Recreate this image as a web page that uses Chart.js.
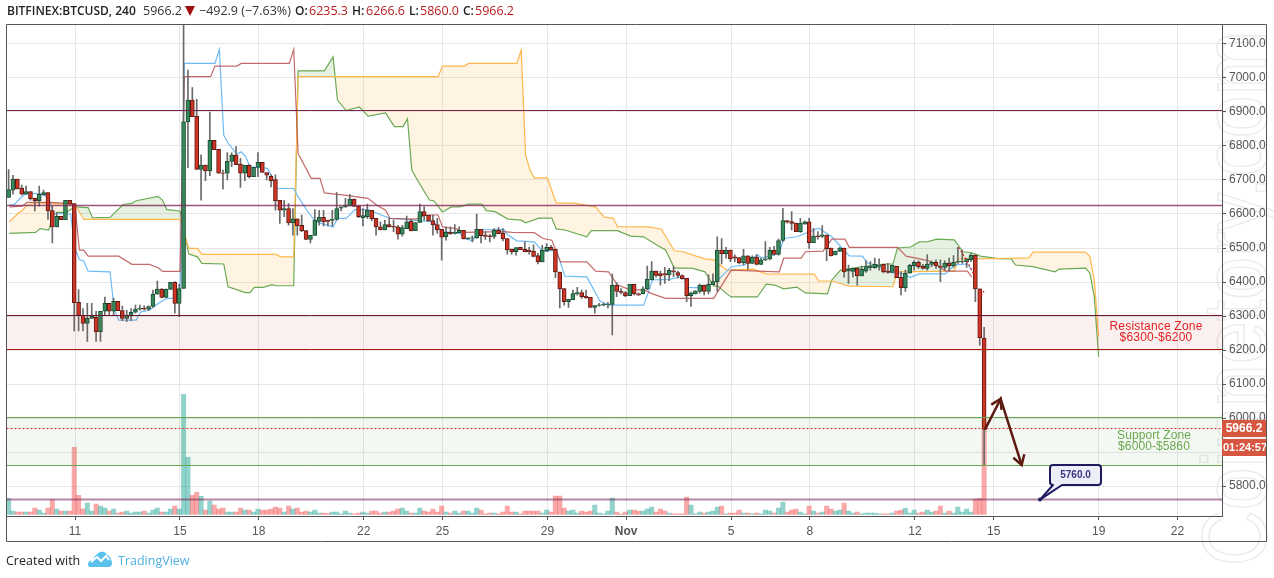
<!DOCTYPE html>
<html>
<head>
<meta charset="utf-8">
<title>BTCUSD</title>
<style>
    html, body { margin: 0; padding: 0; background: #fff; overflow: hidden; }
    #wrap { position: relative; width: 1274px; height: 578px; }
    canvas { position: absolute; left: 0; top: 0; }
    .t { position: absolute; top: 2px; font: 12.5px/17px "Open Sans", sans-serif; color: #333; white-space: nowrap; }
    .b { font-weight: 600; font-size: 12px; color: #222; }
    .r { color: #b71c1c; }
    #tri { position: absolute; left: 185px; top: 6px; width: 0; height: 0; border-left: 5px solid transparent; border-right: 5px solid transparent; border-top: 10px solid #a00f0f; }
    #made { position: absolute; left: 6px; top: 552px; font: 12.5px/17px "Open Sans", sans-serif; color: #222; }
    #tv { position: absolute; left: 118px; top: 552px; font: 12.5px/17px "Open Sans", sans-serif; color: #4fb0e5; }
    #logo { position: absolute; left: 88px; top: 551px; }
</style>
</head>
<body>
<div id="wrap">
    <canvas id="chart" width="1274" height="578"></canvas>
    <div class="t b" style="left:7px">BITFINEX:BTCUSD, 240</div>
    <div class="t" style="left:143px">5966.2</div>
    <div id="tri"></div>
    <div class="t" style="left:199px">−492.9 (−7.63%)</div>
    <div class="t b" style="left:295px">O:</div><div class="t r" style="left:309px">6235.3</div>
    <div class="t b" style="left:352px">H:</div><div class="t r" style="left:366px">6266.6</div>
    <div class="t b" style="left:409px">L:</div><div class="t r" style="left:420px">5860.0</div>
    <div class="t b" style="left:463px">C:</div><div class="t r" style="left:475px">5966.2</div>
    <div id="made">Created with</div>
    <svg id="logo" width="24" height="17" viewBox="0 0 24 17">
        <path d="M0 14 C0 10 3 9 5 9 C6 5 9 3 12 1 C15 0 18 1 19 4 C22 5 24 9 24 13 C24 15 22 16 20 16 L4 16 C2 16 0 16 0 14 Z" fill="#5cc0ec"/>
        <path d="M3 11 L9 6 L13 10 L18 5 L21 9" fill="none" stroke="#fff" stroke-width="2"/>
    </svg>
    <div id="tv">TradingView</div>
</div>
<script src="https://cdn.jsdelivr.net/npm/chart.js@4/dist/chart.umd.min.js"></script>
<script>
// Candles, 4h bars
const opens = [
    6649,6670,6703,6676,6658,6666,6646,6639,6656,6663,
    6610,6562,6593,6583,6640,6631,6340,6302,6278,6293,
    6296,6254,6314,6337,6314,6343,6316,6293,6300,6311,
    6320,6323,6320,6328,6364,6379,6355,6378,6399,6337,
    6381,6871,6935,6887,6731,6744,6727,6817,6790,6720,
    6720,6755,6773,6747,6720,6743,6710,6737,6752,6722,
    6711,6701,6640,6611,6616,6574,6586,6567,6551,6525,
    6537,6578,6590,6582,6581,6584,6617,6621,6624,6644,
    6623,6589,6592,6611,6587,6562,6553,6569,6564,6562,
    6541,6557,6579,6551,6575,6607,6596,6581,6569,6555,
    6533,6546,6543,6545,6552,6527,6529,6530,6555,6538,
    6536,6534,6552,6544,6528,6497,6489,6502,6496,6493,
    6491,6478,6459,6492,6502,6496,6429,6381,6342,6348,
    6365,6369,6358,6355,6325,6331,6332,6333,6334,6391,
    6373,6369,6360,6393,6365,6365,6380,6406,6432,6425,
    6425,6421,6433,6428,6419,6411,6360,6365,6372,6391,
    6372,6392,6401,6494,6483,6494,6474,6472,6457,6477,
    6455,6473,6452,6465,6468,6493,6481,6522,6581,6578,
    6573,6548,6570,6577,6516,6536,6534,6538,6500,6480,
    6490,6500,6432,6431,6440,6418,6432,6442,6442,6446,
    6452,6432,6428,6446,6414,6383,6426,6448,6458,6447,
    6440,6452,6458,6447,6443,6456,6447,6458,6459,6460,
    6466,6479,6380,6235.3
];
const highs = [
    6731,6714,6703,6685,6682,6666,6646,6682,6670,6663,
    6623,6604,6593,6640,6640,6631,6378,6322,6337,6337,
    6314,6314,6356,6337,6353,6343,6329,6317,6322,6332,
    6332,6330,6330,6376,6403,6381,6379,6399,6401,6394,
    7170,7023,6972,6937,6774,6744,6900,6817,6790,6729,
    6781,6780,6798,6764,6743,6745,6737,6781,6752,6722,
    6715,6715,6640,6640,6631,6616,6586,6597,6551,6537,
    6613,6611,6611,6582,6611,6663,6621,6646,6658,6644,
    6623,6616,6629,6611,6587,6577,6582,6587,6582,6567,
    6567,6594,6584,6575,6629,6621,6596,6597,6587,6555,
    6562,6562,6569,6562,6552,6530,6536,6600,6555,6548,
    6540,6557,6560,6557,6528,6497,6501,6502,6518,6502,
    6509,6484,6508,6513,6508,6496,6429,6381,6349,6376,
    6384,6376,6376,6355,6331,6337,6338,6340,6423,6398,
    6381,6372,6393,6393,6368,6386,6447,6460,6432,6432,
    6443,6440,6445,6432,6421,6411,6370,6374,6394,6391,
    6421,6424,6533,6528,6502,6494,6480,6472,6496,6477,
    6477,6481,6470,6519,6502,6505,6526,6617,6581,6607,
    6573,6587,6580,6587,6558,6548,6566,6538,6500,6491,
    6503,6500,6450,6440,6440,6447,6463,6460,6470,6468,
    6452,6455,6450,6446,6430,6435,6452,6463,6462,6452,
    6481,6462,6465,6465,6462,6470,6478,6502,6494,6468,
    6484,6480,6380,6266.6
];
const lows = [
    6649,6658,6674,6656,6658,6641,6609,6623,6656,6584,
    6515,6562,6583,6583,6629,6256,6256,6256,6225,6293,
    6225,6225,6302,6302,6302,6316,6286,6283,6286,6308,
    6317,6317,6316,6325,6364,6353,6355,6378,6308,6298,
    6381,6736,6886,6731,6641,6698,6713,6789,6720,6673,
    6700,6739,6745,6678,6698,6706,6710,6710,6722,6700,
    6680,6611,6572,6592,6567,6538,6538,6548,6525,6515,
    6537,6567,6565,6565,6565,6582,6609,6619,6624,6622,
    6589,6565,6587,6580,6538,6553,6553,6562,6548,6526,
    6535,6557,6550,6551,6575,6582,6580,6538,6543,6464,
    6523,6540,6541,6545,6527,6525,6518,6528,6515,6525,
    6518,6528,6542,6521,6482,6482,6479,6495,6489,6482,
    6474,6453,6459,6489,6494,6413,6324,6332,6325,6348,
    6361,6352,6352,6325,6308,6329,6330,6324,6244,6357,
    6365,6357,6360,6362,6361,6365,6377,6406,6414,6391,
    6396,6404,6416,6411,6408,6342,6328,6365,6367,6362,
    6365,6392,6372,6453,6470,6460,6460,6453,6450,6438,
    6455,6450,6451,6463,6465,6479,6479,6519,6573,6553,
    6548,6546,6570,6499,6516,6526,6531,6463,6477,6480,
    6490,6414,6396,6415,6391,6418,6428,6435,6440,6435,
    6427,6426,6428,6413,6362,6372,6426,6435,6440,6438,
    6435,6445,6440,6401,6435,6433,6443,6455,6455,6443,
    6460,6342,6214,5860
];
const closes = [
    6672,6703,6674,6658,6666,6645,6639,6658,6663,6609,
    6562,6593,6583,6640,6629,6339,6302,6278,6293,6300,
    6254,6314,6337,6314,6343,6316,6293,6301,6311,6320,
    6323,6320,6328,6364,6379,6355,6379,6399,6337,6381,
    6871,6935,6886,6731,6744,6727,6817,6789,6720,6719,
    6755,6773,6745,6720,6743,6710,6737,6752,6722,6714,
    6698,6639,6611,6616,6574,6586,6566,6550,6525,6537,
    6582,6590,6577,6578,6584,6616,6621,6626,6644,6622,
    6592,6595,6611,6586,6562,6553,6569,6562,6561,6541,
    6560,6577,6550,6575,6607,6594,6580,6568,6553,6532,
    6546,6542,6546,6552,6527,6530,6530,6555,6536,6534,
    6533,6552,6542,6527,6494,6489,6501,6495,6489,6489,
    6475,6459,6494,6502,6494,6430,6380,6342,6349,6366,
    6369,6357,6353,6325,6331,6333,6334,6335,6391,6372,
    6369,6359,6393,6365,6361,6380,6408,6432,6419,6418,
    6421,6434,6430,6419,6410,6360,6368,6374,6391,6372,
    6393,6401,6494,6483,6494,6468,6470,6457,6477,6455,
    6473,6452,6465,6468,6493,6481,6522,6581,6576,6572,
    6548,6573,6577,6516,6535,6533,6539,6498,6477,6491,
    6500,6430,6437,6440,6418,6437,6445,6447,6452,6450,
    6430,6428,6450,6413,6383,6426,6449,6458,6445,6440,
    6453,6458,6447,6443,6456,6447,6458,6461,6461,6468,
    6479,6380,6236,5966.2
];
// Volume in the height it has on screen, the scale is not printed
const volumes = [
    16,3.3,2.3,2.3,2.3,2.3,6.3,4.3,1.3,6.3,
    14.6,5.3,3.3,3.3,3.3,67,19,5.3,11.3,3.3,
    10.3,8.3,6.3,3.3,5.3,1.3,2.3,3.3,1.3,2.3,
    2.3,3.3,1.3,4.3,6.3,2.3,2.3,5.3,8.3,5.3,
    120,57,19,22,18,4.3,13.3,9.3,5.3,6.3,
    2.3,2.3,2.3,6.3,4.3,4.3,2.3,5.3,4.3,4.3,
    5.3,7.3,6.3,2.3,8.3,5.3,6.3,2.3,3.3,2.3,
    4.3,1.3,1.3,1,2.3,2.3,0.5,3.3,1.3,0.5,
    1.3,2.3,1.3,3.3,3.3,1.3,2.3,2.3,3.3,5.3,
    6.3,3.3,1.3,1.3,6.3,3.3,2.3,5.3,2.3,8.3,
    2.3,1.3,3.3,1.3,3.3,3.3,1.3,6.3,4.3,0.5,
    1.3,1.3,0.5,2.3,8.3,2.3,2.3,0.5,3.3,3.3,
    3.3,3.3,1.3,4.3,2.3,18.3,18.3,6.3,3.3,4.3,
    1.3,3.3,2.3,3.3,9.3,1.3,0.5,3.3,16.3,2.3,
    0.5,2.3,4.3,4.3,3.3,3.3,5.3,7.3,2.3,5.3,
    3.3,1.3,0.5,0.5,0.5,17.3,9.3,0.5,2.3,1.3,
    2.3,3.3,7.3,8.3,0.5,1.3,1.3,4.3,1.3,1.3,
    0.5,1.3,0.5,4.3,3.3,1.3,6.3,12.3,2.3,4.3,
    5.3,2.3,0.5,8.3,3.3,1.3,2.3,8.3,5.3,3.3,
    4.3,11.3,3.3,1.3,2.3,0.5,1.3,1.3,1.3,0.5,
    0.5,0.5,1.3,3.3,4.3,6.3,1.3,4.3,1.3,2.3,
    4.3,2.3,3.3,8.3,1.3,3.3,1.3,7.3,2.3,5.3,
    2.3,15.3,16,94
];

// Ichimoku lines, [bar index, price] at each bend
const tenkanLine = [
    [0,6627],[1,6627],[3,6653],[4,6660],[7,6660],[9,6649],[10,6602],[14,6600],[15,6499],[16,6466],[17,6462],[18,6432],
    [23,6430],[24,6317],[25,6288],[29,6288],[30,6312],[32,6317],[34,6337],[36,6352],[39,6352],[40,7043],[47,7043],[48,7084],
    [49,6832],[50,6808],[52,6776],[53,6783],[54,6769],[55,6739],[59,6734],[60,6710],[61,6675],[65,6675],[66,6651],[68,6611],
    [70,6577],[74,6562],[75,6587],[77,6587],[79,6613],[82,6613],[85,6597],[87,6587],[91,6584],[94,6580],[97,6577],[99,6548],
    [103,6543],[104,6528],[106,6521],[107,6553],[113,6555],[114,6538],[116,6521],[120,6518],[122,6489],[125,6494],[127,6417],
    [132,6415],[135,6344],[137,6332],[145,6332],[146,6367],[147,6406],[151,6408],[154,6418],[155,6384],[158,6383],[160,6391],
    [162,6406],[165,6445],[168,6450],[171,6480],[172,6470],[176,6484],[177,6528],[180,6533],[185,6558],[188,6533],[192,6477],
    [195,6476],[196,6457],[198,6450],[201,6428],[204,6425],[206,6414],[208,6424],[214,6424],[216,6450],[219,6453],[220,6435]
];
const kijunLine = [
    [0,6621],[3,6623],[4,6634],[9,6634],[14,6631],[15,6626],[16,6494],[17,6494],[18,6476],[25,6476],[28,6452],[32,6452],
    [34,6442],[35,6431],[39,6431],[40,7004],[46,7004],[47,7035],[52,7035],[53,7043],[64,7043],[65,7084],[66,6778],[69,6705],
    [71,6705],[72,6662],[77,6655],[82,6646],[84,6626],[86,6611],[87,6587],[93,6585],[95,6597],[98,6597],[99,6562],[102,6557],
    [104,6546],[113,6548],[115,6546],[120,6545],[122,6528],[124,6523],[126,6459],[132,6459],[134,6432],[137,6430],[139,6391],
    [142,6377],[145,6377],[147,6365],[150,6352],[161,6352],[165,6435],[176,6430],[177,6470],[181,6470],[182,6489],[186,6491],
    [188,6526],[191,6526],[192,6502],[203,6502],[205,6476],[210,6463],[212,6450],[214,6432],[219,6432],[220,6414]
];
const spanGreen = [
    [0,6543],[6,6546],[7,6557],[9,6553],[10,6597],[11,6605],[13,6605],[15,6621],[18,6619],[19,6589],[23,6590],[26,6628],
    [28,6631],[29,6639],[34,6652],[35,6641],[36,6613],[39,6609],[41,6482],[43,6474],[44,6455],[49,6453],[50,6386],[54,6369],
    [55,6369],[56,6384],[58,6384],[60,6392],[61,6389],[65,6389],[66,7021],[72,7021],[74,7062],[75,6935],[77,6904],[80,6915],
    [82,6888],[86,6897],[88,6857],[90,6857],[91,6880],[92,6729],[93,6706],[96,6641],[97,6639],[99,6606],[101,6621],[103,6621],
    [105,6629],[108,6629],[109,6610],[111,6607],[114,6585],[117,6582],[118,6574],[121,6588],[124,6588],[125,6556],[127,6553],
    [132,6533],[133,6551],[139,6551],[142,6535],[145,6533],[148,6509],[150,6494],[152,6441],[156,6441],[159,6430],[161,6388],
    [162,6388],[164,6365],[165,6356],[171,6356],[173,6394],[175,6391],[177,6380],[180,6385],[182,6368],[187,6365],[188,6406],
    [190,6435],[195,6445],[200,6453],[202,6453],[203,6500],[206,6503],[208,6518],[210,6519],[212,6526],[216,6524],[218,6489],
    [220,6486],[222,6476],[226,6469],[229,6468],[230,6450],[234,6445],[239,6430],[240,6438],[246,6441],[247,6426],[248,6357],[249,6180]
];
const spanOrange = [
    [0,6577],[2,6602],[3,6611],[4,6626],[6,6633],[9,6631],[15,6628],[17,6584],[39,6584],[41,6499],[43,6499],[44,6481],
    [61,6481],[62,6474],[65,6474],[66,7004],[98,7004],[99,7035],[104,7035],[105,7043],[116,7043],[117,7082],[118,6774],
    [119,6729],[120,6706],[123,6706],[125,6632],[129,6632],[134,6621],[136,6591],[138,6588],[139,6563],[146,6562],[149,6556],
    [152,6492],[154,6489],[157,6476],[159,6468],[161,6465],[164,6435],[170,6438],[173,6424],[184,6423],[185,6403],[188,6403],
    [192,6388],[202,6386],[203,6430],[216,6432],[217,6468],[226,6469],[233,6471],[234,6488],[246,6488],[247,6475],[248,6406],[249,6239]
];
// Short red scribble next to the last candles
const scribble = [[217,6502],[219,6460],[220.7,6416],[221,null],[222,6377],[222.3,6362],[222.9,6377]];

// Axes
const xTickBars = [15, 39, 57, 81, 99, 123, 141, 165, 183, 207, 225, 249, 267];
const xTickLabels = ['11', '15', '18', '22', '25', '29', 'Nov', '5', '8', '12', '15', '19', '22'];
const yTicks = [5800, 5900, 6000, 6100, 6200, 6300, 6400, 6500, 6600, 6700, 6800, 6900, 7000, 7100];

// Drawings on the chart
const levelLines = [6903, 6623, 5760];
const resistanceZone = [6300, 6200];
const supportZone = [6000, 5860];
const arrowBars = [223, 226.6, 231.4];
const arrowPrices = [5966, 6056, 5862];

// candles sit a little left of the date ticks in the original
const BAR_SHIFT = 0.18;

const pts = list => list.map(p => ({ x: p[0], y: p[1] }));
const isUp = i => closes[i] >= opens[i];

const overlayPlugin = {
    id: 'overlay',
    beforeDraw(chart) {
        // pale site watermark running up the right edge
        const c = chart.ctx;
        c.save();
        c.translate(1266, 566);
        c.rotate(-Math.PI / 2);
        c.font = '90px "Liberation Sans"';
        c.strokeStyle = '#ebebeb';
        c.lineWidth = 1.5;
        c.strokeText('Coinnetory.com', 0, 0, 535);
        c.restore();
    },
    afterDatasetsDraw(chart) {
        const c = chart.ctx, a = chart.chartArea, x = chart.scales.x, y = chart.scales.y;
        const py = v => y.getPixelForValue(v);
        c.save();

        // zones
        c.fillStyle = 'rgba(205,60,60,0.08)';
        c.fillRect(a.left, py(resistanceZone[0]), a.width, py(resistanceZone[1]) - py(resistanceZone[0]));
        c.fillStyle = 'rgba(106,170,85,0.08)';
        c.fillRect(a.left, py(supportZone[0]), a.width, py(supportZone[1]) - py(supportZone[0]));
        hline(c, a, py(resistanceZone[0]), '#6a1530', 1);
        hline(c, a, py(resistanceZone[1]), '#b01818', 1);
        hline(c, a, py(supportZone[0]), '#6aa84f', 1);
        hline(c, a, py(supportZone[1]), '#6aa84f', 1);

        hline(c, a, py(levelLines[0]), '#7b2450', 1);
        hline(c, a, py(levelLines[1]), 'rgba(130,40,90,0.8)', 1.5);
        hline(c, a, py(levelLines[2]), 'rgba(120,40,90,0.55)', 2);

        // last price
        const last = closes[closes.length - 1];
        c.setLineDash([2, 2]);
        hline(c, a, py(last) - 1, '#e03030', 1);
        c.setLineDash([]);

        // arrows
        c.strokeStyle = '#5c1a10';
        c.lineWidth = 2.5;
        c.beginPath();
        arrowBars.forEach((b, i) => {
            const px = x.getPixelForValue(b), pyv = py(arrowPrices[i]);
            if (i === 0) c.moveTo(px, pyv); else c.lineTo(px, pyv);
        });
        c.stroke();
        for (let i = 1; i < arrowBars.length; i++) {
            const x0 = x.getPixelForValue(arrowBars[i - 1]), y0 = py(arrowPrices[i - 1]);
            const x1 = x.getPixelForValue(arrowBars[i]), y1 = py(arrowPrices[i]);
            const ang = Math.atan2(y1 - y0, x1 - x0);
            c.beginPath();
            c.moveTo(x1 - 11 * Math.cos(ang - 0.55), y1 - 11 * Math.sin(ang - 0.55));
            c.lineTo(x1, y1);
            c.lineTo(x1 - 11 * Math.cos(ang + 0.55), y1 - 11 * Math.sin(ang + 0.55));
            c.stroke();
        }

        // 5760 callout
        const dotX = 1040, dotY = py(levelLines[2]);
        c.fillStyle = '#eeeef8';
        c.strokeStyle = '#1e1a5e';
        c.lineWidth = 2;
        c.lineJoin = 'round';
        c.beginPath();
        c.moveTo(1053, 485);
        c.lineTo(dotX, dotY);
        c.lineTo(1062, 485);
        c.lineTo(1098, 485);
        c.arcTo(1101, 485, 1101, 482, 3);
        c.lineTo(1101, 468);
        c.arcTo(1101, 465, 1098, 465, 3);
        c.lineTo(1053, 465);
        c.arcTo(1050, 465, 1050, 468, 3);
        c.lineTo(1050, 482);
        c.arcTo(1050, 485, 1053, 485, 3);
        c.closePath();
        c.fill();
        c.stroke();
        c.fillStyle = '#1e1a5e';
        c.beginPath();
        c.arc(dotX, dotY, 2, 0, Math.PI * 2);
        c.fill();
        c.fillStyle = '#3a3480';
        c.font = 'bold 10px "Liberation Sans"';
        c.textAlign = 'center';
        c.textBaseline = 'middle';
        c.fillText('5760.0', 1075.5, 475);

        // zone labels
        c.font = '12px "Liberation Sans"';
        c.fillStyle = '#e02020';
        c.letterSpacing = '0.2px';
        c.fillText('Resistance Zone', 1156, 327);
        c.fillText('$6300-$6200', 1156, 338);
        c.fillStyle = '#6aa84f';
        c.letterSpacing = '0.1px';
        c.fillText('Support Zone', 1154, 436);
        c.fillText('$6000-$5860', 1154, 447);
        c.letterSpacing = '0px';

        // price tags on the axis
        c.fillStyle = '#d65640';
        c.fillRect(a.right, 420, 45, 17);
        c.fillRect(a.right, 439, 45, 17);
        c.fillStyle = '#fff';
        c.font = 'bold 12px "Liberation Sans"';
        c.fillText(last.toFixed(1), a.right + 22, 429);
        c.font = 'bold 11px "Liberation Sans"';
        c.fillText('01:24:57', a.right + 23, 448);

        // outer frame
        c.strokeStyle = '#555';
        c.lineWidth = 1;
        c.strokeRect(6.5, 24.5, 1260, 517);
        c.restore();
    }
};

function hline(c, a, yPix, color, width) {
    const snapped = Math.floor(yPix - 0.3) + 0.5;
    c.strokeStyle = color;
    c.lineWidth = width;
    c.beginPath();
    c.moveTo(a.left, snapped);
    c.lineTo(a.right, snapped);
    c.stroke();
}

function barSet(extra) {
    return Object.assign({ type: 'bar', grouped: false, barPercentage: 1, categoryPercentage: 1, borderSkipped: false }, extra);
}

function lineSet(extra) {
    return Object.assign({ type: 'line', pointRadius: 0, borderWidth: 1.2, tension: 0, fill: false, yAxisID: 'y' }, extra);
}

new Chart(document.getElementById('chart').getContext('2d'), {
    data: {
        datasets: [
            barSet({
                label: 'Volume', order: 10, yAxisID: 'vol',
                data: volumes.map((v, i) => ({ x: i - BAR_SHIFT, y: v })),
                backgroundColor: volumes.map((v, i) => isUp(i) ? 'rgba(38,166,154,0.5)' : 'rgba(243,80,80,0.5)')
            }),
            lineSet({
                label: 'Span A', order: 9, data: pts(spanGreen), borderColor: '#6aaa55',
                fill: { target: '+1', above: 'rgba(106,170,85,0.17)', below: 'rgba(255,183,77,0.16)' }
            }),
            lineSet({ label: 'Span B', order: 8, data: pts(spanOrange), borderColor: '#ffb74d' }),
            lineSet({ label: 'Tenkan', order: 7, data: pts(tenkanLine), borderColor: '#6fbcf5' }),
            lineSet({ label: 'Kijun', order: 6, data: pts(kijunLine), borderColor: 'rgba(180,70,70,0.8)' }),
            barSet({
                label: 'Wicks', order: 5, yAxisID: 'y', maxBarThickness: 1,
                data: highs.map((h, i) => ({ x: i - BAR_SHIFT, y: [lows[i], h] })),
                backgroundColor: '#6a6a6a'
            }),
            barSet({
                label: 'Bodies', order: 4, yAxisID: 'y', maxBarThickness: 4, borderWidth: 1,
                data: opens.map((o, i) => ({ x: i - BAR_SHIFT, y: [o, closes[i]] })),
                backgroundColor: opens.map((o, i) => isUp(i) ? '#37895c' : '#cf3524'),
                borderColor: opens.map((o, i) => isUp(i) ? '#1c4d34' : '#5e1a12')
            }),
            lineSet({ label: 'Scribble', order: 3, data: pts(scribble), borderColor: '#e02b2b', borderDash: [2, 2] })
        ]
    },
    options: {
        responsive: false,
        animation: false,
        layout: { padding: { left: 6.5, top: 24, right: 7, bottom: 37 } },
        plugins: { legend: { display: false }, tooltip: { enabled: false } },
        scales: {
            x: {
                type: 'linear',
                min: -0.66,
                max: 277.2,
                offset: false,
                afterBuildTicks: s => { s.ticks = xTickBars.map(v => ({ value: v })); },
                afterFit: s => { s.height = 25; },
                grid: { offset: false, color: '#e6e6e6', tickColor: '#555', tickLength: 4 },
                border: { color: '#555' },
                ticks: {
                    autoSkip: false,
                    maxRotation: 0,
                    color: '#555',
                    padding: 4,
                    font: c => ({
                        family: '"Liberation Sans"', size: 12,
                        weight: xTickLabels[c.index] === 'Nov' ? 'bold' : 'normal'
                    }),
                    callback: v => xTickLabels[xTickBars.indexOf(v)]
                }
            },
            y: {
                position: 'right',
                min: 5711.8,
                max: 7158.8,
                afterBuildTicks: s => { s.ticks = yTicks.map(v => ({ value: v })); },
                afterFit: s => { s.width = 45; },
                grid: { color: '#e6e6e6', tickColor: '#555', tickLength: 4 },
                border: { color: '#555' },
                ticks: {
                    color: '#555',
                    padding: 3,
                    font: { family: '"Liberation Sans"', size: 12 },
                    callback: v => v.toFixed(1)
                }
            },
            vol: { display: false, min: -1.7, max: 490.3 }
        }
    },
    plugins: [overlayPlugin]
});
</script>
</body>
</html>
